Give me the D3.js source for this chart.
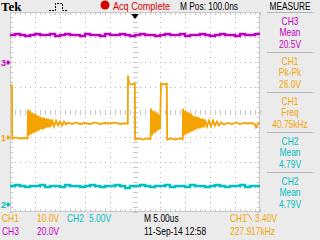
<!DOCTYPE html>
<html>
<head>
<meta charset="utf-8">
<script src="https://cdn.jsdelivr.net/npm/d3@7"></script>
<style>
  body { margin: 0; background: #ebebeb; }
  svg { display: block; }
  text { font-family: 'Liberation Sans Narrow', 'Liberation Sans', sans-serif; font-size: 11px; }
</style>
</head>
<body>
<div id="scope"></div>
<script>
// horizontal: 5 us/div, 10 div ; vertical: 8 div
const timeSpan = [-25, 25]
const divSpan = [-4, 4]

const channels = ['CH1', 'CH2', 'CH3']
const channelColors = ['#f5a300', '#00c0c0', '#c000c0']
const voltsPerDiv = [10, 5, 20]
const groundDivs = [-1, -3.92, 2]
const markerLabels = ['1', '2', '3']

// CH1 trace (us, V)
const ch1Times = [-25, -24.6, -24.56, -23.8, -23, -22.2, -21.48,
  -21.4, -21.2, -21.0, -20.8, -20.6, -20.4, -20.2, -20.0, -19.8, -19.6, -19.4, -19.2, -19.0, -18.8,
  -18.6, -18.4, -18.2, -18.0, -17.8, -17.6, -17.4, -17.2, -17.0, -16.8, -16.6, -16.2, -15.8, -15.4,
  -15.0, -14.6, -14.2, -13.8, -13.4, -12.6, -11.8, -11.0, -10.0, -9.0, -8.0, -7.0, -6.0, -5.0, -4.0,
  -3.0, -2.2, -1.44,
  -1.4, -1.2, -0.6, -0.04, 0.04, 0.8, 1.6, 2.4, 3.1,
  3.2, 3.4, 3.6, 3.8, 4.0, 4.2, 4.4, 4.6, 4.8, 5.0,
  5.2, 5.8, 6.36, 6.44, 7.2, 8.0, 8.8, 9.56,
  9.6, 9.8, 10.0, 10.2, 10.4, 10.6, 10.8, 11.0, 11.2, 11.4, 11.6, 11.8, 12.0, 12.2, 12.4, 12.6,
  12.8, 13.0, 13.2, 13.4, 13.6, 13.8, 14.0, 14.4, 14.8, 15.2, 15.6, 16.0, 16.4, 16.8, 17.2, 17.8,
  18.6, 19.4, 20.2, 21.0, 21.8, 22.6, 23.4, 24.0, 24.2, 24.4, 24.6, 25.0]
const ch1Volts = [20.6, 20.6, -0.6, -0.2, -0.6, -0.4, -0.6,
  11.0, 0.6, 10.6, 1.0, 9.8, 1.4, 9.4, 1.8, 9.0, 2.2, 8.6, 2.6, 8.2, 3.0,
  7.8, 3.0, 7.8, 3.4, 7.4, 3.8, 7.4, 3.8, 7.0, 4.2, 7.0, 4.2, 6.6, 4.6,
  6.2, 4.6, 6.2, 5.0, 5.8, 5.2, 5.8, 5.2, 5.6, 5.2, 5.8, 5.2, 5.6, 5.4, 5.8,
  5.2, 5.4, 5.4,
  24.6, 21.4, 21.0, 21.4, -1.0, -0.6, -1.0, -0.6, -0.8,
  11.4, 0.6, 10.6, 1.4, 10.2, 1.8, 9.8, 2.6, 9.0, 3.0,
  21.4, 21.0, 21.4, -1.0, -0.6, -1.0, -0.6, -0.8,
  11.4, 0.6, 10.6, 1.0, 10.2, 1.4, 9.8, 1.8, 9.4, 2.2, 8.6, 2.6, 8.2, 3.0, 8.2, 3.4,
  7.8, 3.4, 7.4, 3.8, 7.4, 3.8, 7.0, 4.2, 6.6, 4.2, 6.6, 4.6, 6.2, 4.6, 5.8, 5.0,
  5.6, 5.2, 5.8, 5.2, 5.6, 5.4, 5.6, 5.0, 3.8, 4.6, 5.4, 5.4]

// CH2 / CH3 sampled every 1 us across the screen
const ch2Volts = [4.8, 5.0, 4.8, 4.6, 4.8, 4.8, 5.0, 4.6, 4.8, 4.8, 4.6, 5.0, 4.8, 4.8, 4.6, 4.8, 5.0,
  4.8, 4.6, 4.8, 4.8, 5.0, 4.8, 4.4, 4.8, 4.8, 5.0, 4.8, 4.6, 4.8, 4.8, 5.0, 4.6, 4.8, 4.8, 4.6,
  5.0, 4.8, 4.8, 4.6, 4.8, 5.0, 4.8, 4.6, 4.8, 4.8, 5.0, 4.6, 4.8, 4.8, 5.0]
const ch3Volts = [21.6, 22.4, 21.6, 20.8, 21.6, 22.4, 21.6, 21.6, 22.4, 20.8, 21.6, 22.4, 21.6, 21.6,
  20.8, 22.4, 21.6, 21.6, 20.8, 22.4, 21.6, 21.6, 22.4, 21.6, 20.8, 21.6, 22.4, 21.6, 21.6, 20.8,
  21.6, 22.4, 21.6, 21.6, 22.4, 20.8, 21.6, 21.6, 22.4, 21.6, 20.8, 21.6, 22.4, 21.6, 21.6, 20.8,
  22.4, 21.6, 21.6, 22.4, 21.6]

// measurement panel
const measureChannels = ['CH3', 'CH1', 'CH1', 'CH2', 'CH2']
const measureTypes = ['Mean', 'Pk-Pk', 'Freq', 'Mean', 'Mean']
const measureValues = ['20.5V', '26.0V', '40.75kHz', '4.79V', '4.79V']

const svg = d3
  .select('#scope')
  .append('svg')
  .attr('width', 320)
  .attr('height', 240)

svg.append('rect').attr('width', 320).attr('height', 240).attr('fill', '#ebebeb')

const xScale = d3.scaleLinear().domain(timeSpan).range([10, 260])
const yDiv = d3.scaleLinear().domain(divSpan).range([212, 12])

const colorOf = name => channelColors[channels.indexOf(name)]

// graticule
const grat = svg.append('g')
grat
  .append('rect')
  .attr('x', 10)
  .attr('y', 12)
  .attr('width', 250)
  .attr('height', 200)
  .attr('fill', '#fff')

const gridColor = '#b4b4b4'
const tickColor = '#c8c8c8'
d3.range(-20, 25, 5).forEach(t => {
  grat
    .append('line')
    .attr('x1', xScale(t) + 0.5)
    .attr('x2', xScale(t) + 0.5)
    .attr('y1', 12)
    .attr('y2', 212)
    .attr('stroke', gridColor)
    .attr('stroke-dasharray', '1 4')
})
d3.range(-3, 4, 1).forEach(d => {
  grat
    .append('line')
    .attr('x1', 10)
    .attr('x2', 260)
    .attr('y1', yDiv(d) + 0.5)
    .attr('y2', yDiv(d) + 0.5)
    .attr('stroke', gridColor)
    .attr('stroke-dasharray', '1 4')
})

// ticks on centre lines and border
const minorY = d3.range(-4, 4.01, 0.2)
const minorX = d3.range(-25, 25.01, 1)
minorY.forEach(d => {
  const y = Math.round(yDiv(d)) + 0.5
  grat.append('line').attr('x1', 133).attr('x2', 138).attr('y1', y).attr('y2', y).attr('stroke', tickColor)
  grat.append('line').attr('x1', 10).attr('x2', 13).attr('y1', y).attr('y2', y).attr('stroke', tickColor)
  grat.append('line').attr('x1', 257).attr('x2', 260).attr('y1', y).attr('y2', y).attr('stroke', tickColor)
})
minorX.forEach(t => {
  const x = Math.round(xScale(t)) + 0.5
  grat.append('line').attr('x1', x).attr('x2', x).attr('y1', 110).attr('y2', 115).attr('stroke', tickColor)
  grat.append('line').attr('x1', x).attr('x2', x).attr('y1', 12).attr('y2', 15).attr('stroke', tickColor)
  grat.append('line').attr('x1', x).attr('x2', x).attr('y1', 209).attr('y2', 212).attr('stroke', tickColor)
})

grat
  .append('rect')
  .attr('x', 10.5)
  .attr('y', 12.5)
  .attr('width', 249)
  .attr('height', 199)
  .attr('fill', 'none')
  .attr('stroke', '#c8c8c8')

// traces
const traceY = (ch, v) => yDiv(groundDivs[ch] + v / voltsPerDiv[ch])

const sampleT = (i, n) => timeSpan[0] + (i * (timeSpan[1] - timeSpan[0])) / (n - 1)

const traces = [
  { ch: 2, pts: ch3Volts.map((v, i) => [sampleT(i, ch3Volts.length), v]), curve: d3.curveStepAfter, w: 2.5 },
  { ch: 1, pts: ch2Volts.map((v, i) => [sampleT(i, ch2Volts.length), v]), curve: d3.curveStepAfter, w: 2.5 },
  { ch: 0, pts: ch1Times.map((t, i) => [t, ch1Volts[i]]), curve: d3.curveLinear, w: 1.8 }
]

const clip = svg.append('clipPath').attr('id', 'plot-clip')
clip.append('rect').attr('x', 10).attr('y', 12).attr('width', 250).attr('height', 200)

traces.forEach(tr => {
  const line = d3
    .line()
    .x(d => xScale(d[0]))
    .y(d => traceY(tr.ch, d[1]))
    .curve(tr.curve)
  svg
    .append('path')
    .datum(tr.pts)
    .attr('d', line)
    .attr('fill', 'none')
    .attr('stroke', channelColors[tr.ch])
    .attr('stroke-width', tr.w)
    .attr('clip-path', 'url(#plot-clip)')
})

// ground markers on the left
channels.forEach((c, i) => {
  const y = Math.min(Math.round(traceY(i, 0)), 204)
  const g = svg.append('g').attr('fill', channelColors[i]).attr('stroke', channelColors[i])
  g.append('text')
    .attr('x', 1)
    .attr('y', y + 3.5)
    .attr('stroke', 'none')
    .style('font-size', '9px')
    .style('font-weight', 'bold')
    .text(markerLabels[i])
  g.append('path')
    .attr('d', `M6,${y + 0.5}H9M7.5,${y - 1.5}V${y + 2.5}`)
    .attr('fill', 'none')
  g.append('path').attr('d', `M8,${y - 2}L10.5,${y + 0.5}L8,${y + 3}Z`).attr('stroke', 'none')
})

// trigger position arrow
svg.append('path').attr('d', 'M131.5,14.5H138.5').attr('stroke', '#000')
svg.append('path').attr('d', 'M132,15L135,19L138,15Z').attr('fill', '#000')

// header
svg
  .append('text')
  .attr('x', 1)
  .attr('y', 11)
  .style('font-family', "'Liberation Serif', 'DejaVu Serif', serif")
  .style('font-weight', 'bold')
  .style('font-size', '13px')
  .text('Tek')

svg
  .append('path')
  .attr('d', 'M49,10.5H55.5V3.5H62.5V10.5H68')
  .attr('fill', 'none')
  .attr('stroke', '#000')
  .attr('stroke-dasharray', '2 1')

svg.append('circle').attr('cx', 105).attr('cy', 5).attr('r', 4.5).attr('fill', '#d40000')

const header = [
  { x: 113, t: 'Acq Complete', len: 57, anchor: 'start', c: '#d40000' },
  { x: 180, t: 'M Pos: 100.0ns', len: 58, anchor: 'start', c: '#000' },
  { x: 290, t: 'MEASURE', len: 41, anchor: 'middle', c: '#000' }
]
svg
  .selectAll('.head')
  .data(header)
  .enter()
  .append('text')
  .attr('class', 'head')
  .attr('x', d => d.x)
  .attr('y', 9.5)
  .attr('fill', d => d.c)
  .attr('text-anchor', d => d.anchor)
  .attr('textLength', d => d.len)
  .attr('lengthAdjust', 'spacingAndGlyphs')
  .style('font-size', '10px')
  .text(d => d.t)

// measurement panel
const panel = svg.append('g')
panel.append('line').attr('x1', 267).attr('x2', 313).attr('y1', 12.5).attr('y2', 12.5).attr('stroke', '#b4b4b4')
measureChannels.forEach((c, i) => {
  const top = 12 + i * 40
  const col = colorOf(c)
  ;[c, measureTypes[i], measureValues[i]].forEach((s, j) => {
    panel
      .append('text')
      .attr('class', 'narrow')
      .attr('x', 290)
      .attr('y', top + 12.5 + j * 11.5)
      .attr('text-anchor', 'middle')
      .attr('fill', col)
      .text(s)
  })
  if (i < measureChannels.length - 1) {
    panel
      .append('line')
      .attr('x1', 267)
      .attr('x2', 313)
      .attr('y1', top + 40.5)
      .attr('y2', top + 40.5)
      .attr('stroke', '#b4b4b4')
  }
})

// footer
const footer = [
  { x: 2, y: 221.5, t: 'CH1', c: channelColors[0] },
  { x: 37, y: 221.5, t: `${voltsPerDiv[0].toFixed(1)}V`, c: channelColors[0] },
  { x: 67, y: 221.5, t: 'CH2', c: channelColors[1] },
  { x: 89, y: 221.5, t: `${voltsPerDiv[1].toFixed(2)}V`, c: channelColors[1] },
  { x: 2, y: 234.5, t: 'CH3', c: channelColors[2] },
  { x: 37, y: 234.5, t: `${voltsPerDiv[2].toFixed(1)}V`, c: channelColors[2] },
  { x: 144, y: 221.5, t: 'M 5.00us', c: '#000' },
  { x: 144, y: 234.5, t: '11-Sep-14 12:58', c: '#000' },
  { x: 230, y: 221.5, t: 'CH1', c: channelColors[0] },
  { x: 255, y: 221.5, t: '3.40V', c: channelColors[0] },
  { x: 230, y: 234.5, t: '227.917kHz', c: channelColors[0] }
]
svg
  .selectAll('.foot')
  .data(footer)
  .enter()
  .append('text')
  .attr('class', 'foot narrow')
  .attr('x', d => d.x)
  .attr('y', d => d.y)
  .attr('fill', d => d.c)
  .text(d => d.t)

// falling edge symbol
svg
  .append('path')
  .attr('d', 'M246,214.5H248.5L252,220.5')
  .attr('fill', 'none')
  .attr('stroke', channelColors[0])

// the scope font is narrow: squeeze text to match (227.917kHz is ~45px wide on screen)
const refWidth = svg
  .selectAll('.foot')
  .filter(d => d.t === '227.917kHz')
  .node()
  .getComputedTextLength()
const squeeze = Math.min(1, 45 / refWidth)
svg.selectAll('.narrow').each(function () {
  const len = this.getComputedTextLength()
  d3.select(this)
    .attr('textLength', (len * squeeze).toFixed(1))
    .attr('lengthAdjust', 'spacingAndGlyphs')
})
</script>
</body>
</html>
